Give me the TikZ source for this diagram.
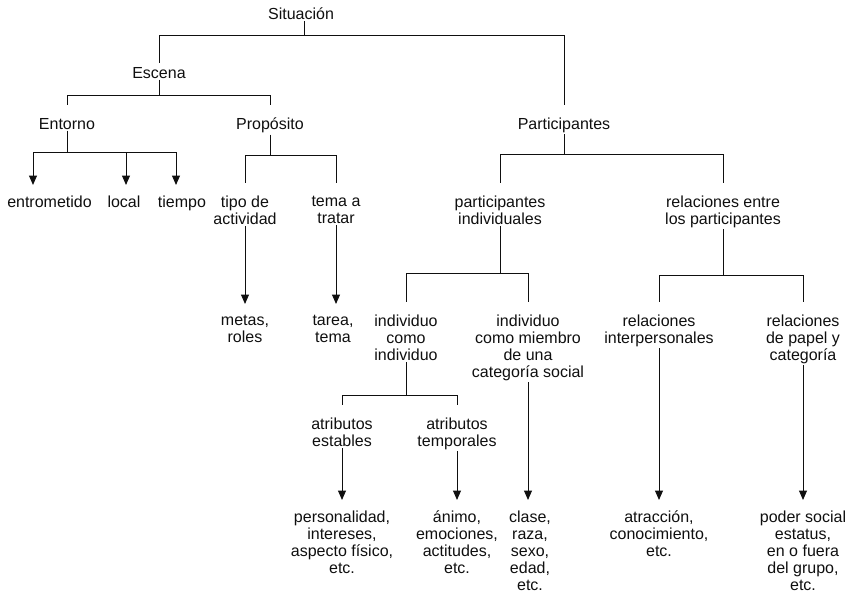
\documentclass[tikz,border=0pt]{standalone}
\usepackage{fontspec}
\setmainfont{Liberation Sans}
\usepackage{tikz}
\usetikzlibrary{arrows.meta, positioning, calc}
\definecolor{myink}{RGB}{15,15,15}
\tikzset{
  term/.style={align=center, anchor=north, inner sep=1pt,
    font=\fontsize{16}{17}\selectfont, text=myink},
  link/.style={line width=1pt, color=myink},
  drop/.style={link, shorten >=12pt},
  arrow/.style={link, shorten >=10pt, -{Triangle[width=8pt,length=9.5pt]}}
}

\begin{document}
\begin{tikzpicture}[x=1pt, y=-1pt]
  \useasboundingbox (0,0) rectangle (850,597);

  % Top levels
  \node[term] (sit) at (301,7) {Situación};
  \node[term] (esc) at (159,66) {Escena};
  \node[term] (ent) at (67,117) {Entorno};
  \node[term] (prop) at (270,117) {Propósito};
  \node[term] (part) at (564,117) {Participantes};

  % Escena branch
  \node[term] (entro) at (49.5,195) {entrometido};
  \node[term] (loc) at (124,195) {local};
  \node[term] (tiem) at (182,195) {tiempo};
  \node[term] (tipo) at (245,195) {tipo de\\actividad};
  \node[term] (tema) at (336,195) {tema a\\tratar};
  \node[term] (metas) at (245,314) {metas,\\roles};
  \node[term] (tarea) at (333,314) {tarea,\\tema};

  % Participantes branch
  \node[term] (pind) at (500,195) {participantes\\individuales};
  \node[term] (rel) at (723,195) {relaciones entre\\los participantes};
  \node[term] (indiv) at (406,314) {individuo\\como\\individuo};
  \node[term] (miem) at (528,314) {individuo\\como miembro\\de una\\categoría social};
  \node[term] (inter) at (659,314) {relaciones\\interpersonales};
  \node[term] (papel) at (803,314) {relaciones\\de papel y\\categoría};
  \node[term] (estab) at (342,417) {atributos\\estables};
  \node[term] (temp) at (457,417) {atributos\\temporales};

  % Leaves
  \node[term] (perso) at (342,510) {personalidad,\\intereses,\\aspecto físico,\\etc.};
  \node[term] (animo) at (457,510) {ánimo,\\emociones,\\actitudes,\\etc.};
  \node[term] (clase) at (530,510) {clase,\\raza,\\sexo,\\edad,\\etc.};
  \node[term] (atrac) at (659,510) {atracción,\\conocimiento,\\etc.};
  \node[term] (poder) at (803,510) {poder social\\estatus,\\en o fuera\\del grupo,\\etc.};

  % Situación fork
  \coordinate (f1) at (304,35);
  \draw[link] (f1 |- sit.south) -- (f1);
  \draw[drop, shorten >=3pt] (f1) -| (esc.north);
  \draw[drop] (f1) -| (part.north);

  % Escena fork
  \coordinate (f2) at (159,95);
  \draw[link] (esc.south) -- (f2);
  \draw[drop] (f2) -| (ent.north);
  \draw[drop] (f2) -| (prop.north);

  % Entorno fork
  \coordinate (f3) at (67,152);
  \draw[link] (ent.south) -- (f3);
  \draw[arrow] (f3) -| ([xshift=-16.5pt]entro.north);
  \draw[arrow] (f3) -| ([xshift=2pt]loc.north);
  \draw[arrow] (f3) -| ([xshift=-6pt]tiem.north);

  % Propósito fork
  \coordinate (f4) at (270,155);
  \draw[link] (prop.south) -- (f4);
  \draw[drop] (f4) -| (tipo.north);
  \draw[drop] (f4) -| (tema.north);
  \draw[arrow] (tipo.south) -- (metas.north);
  \draw[arrow] (tema.south) -- (tema.south |- tarea.north);

  % Participantes fork
  \coordinate (f5) at (564,154);
  \draw[link] (part.south) -- (f5);
  \draw[drop] (f5) -| (pind.north);
  \draw[drop] (f5) -| (rel.north);

  % individuales fork
  \coordinate (f6) at (500,273);
  \draw[link] (pind.south) -- (f6);
  \draw[drop] (f6) -| (indiv.north);
  \draw[drop] (f6) -| (miem.north);

  % relaciones fork
  \coordinate (f7) at (723,275);
  \draw[link] (rel.south) -- (f7);
  \draw[drop] (f7) -| (inter.north);
  \draw[drop] (f7) -| (papel.north);

  % individuo fork
  \coordinate (f8) at (406,395);
  \draw[link] (indiv.south) -- (f8);
  \draw[drop] (f8) -| (estab.north);
  \draw[drop] (f8) -| (temp.north);

  % Arrows to leaves
  \draw[arrow] (estab.south) -- (perso.north);
  \draw[arrow] (temp.south) -- (animo.north);
  \draw[arrow] (miem.south) -- (miem.south |- clase.north);
  \draw[arrow] (inter.south) -- (atrac.north);
  \draw[arrow] (papel.south) -- (poder.north);
\end{tikzpicture}
\end{document}
